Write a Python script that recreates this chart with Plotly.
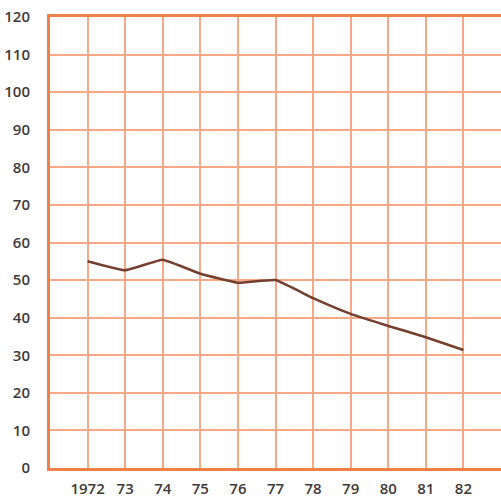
import plotly.graph_objects as go

years = [1972, 1973, 1974, 1975, 1976, 1977, 1978, 1979, 1980, 1981, 1982]
values = [55.0, 52.6, 55.4, 51.7, 49.3, 50.0, 45.2, 41.0, 37.8, 34.8, 31.4]
x_tickvals = [1972, 1973, 1974, 1975, 1976, 1977, 1978, 1979, 1980, 1981, 1982, 1983]
x_ticktext = ["1972", "73", "74", "75", "76", "77", "78", "79", "80", "81", "82", ""]
y_tickvals = [0, 10, 20, 30, 40, 50, 60, 70, 80, 90, 100, 110, 120]

grid_color = "#f8a887"
axis_color = "#f0804a"
text_color = "#3f3a3a"
tick_font = dict(family="Open Sans", size=15, color=text_color, weight=600)

fig = go.Figure()
fig.add_trace(go.Scatter(
    x=years, y=values, mode="lines",
    line=dict(color="#763e2d", width=2.5, shape="spline", smoothing=0.3),
    showlegend=False, hoverinfo="skip",
))

fig.update_layout(
    width=501, height=498,
    margin=dict(l=50, r=0, t=17, b=30, autoexpand=False),
    paper_bgcolor="white", plot_bgcolor="white",
    font=dict(family="Open Sans", size=15, color=text_color),
)
fig.update_xaxes(
    range=[1971, 1983], tickmode="array", tickvals=x_tickvals, ticktext=x_ticktext,
    showgrid=True, gridcolor=grid_color, gridwidth=1.5,
    showline=True, linecolor=axis_color, linewidth=3, mirror=True,
    ticks="", ticklabelstandoff=5, zeroline=False, automargin=False,
    ticklabeloverflow="allow", tickfont=tick_font,
)
fig.update_yaxes(
    range=[0, 120], tickmode="array", tickvals=y_tickvals,
    showgrid=True, gridcolor=grid_color, gridwidth=1.5,
    showline=True, linecolor=axis_color, linewidth=3, mirror=True,
    ticks="", ticklabelstandoff=14, zeroline=False, automargin=False,
    ticklabeloverflow="allow", tickfont=tick_font,
)

# remove the default 8px body margin so the figure fills the window exactly
fig.write_html(
    "out.html",
    config={"displayModeBar": False},
    post_script="document.body.style.margin='0';",
)
